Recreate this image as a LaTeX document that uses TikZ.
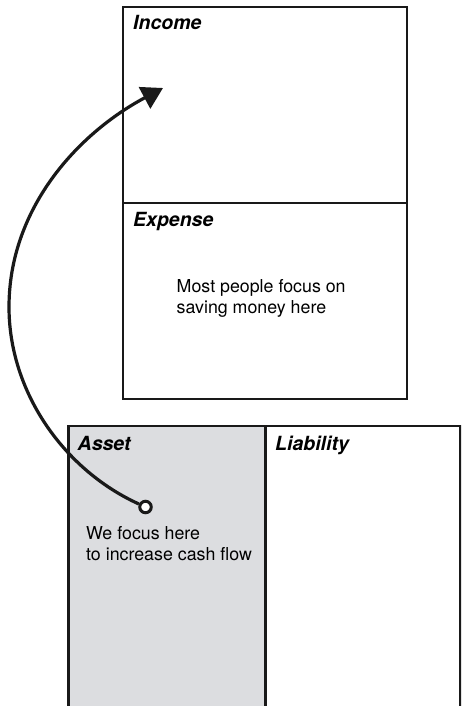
\documentclass[tikz,border=0pt]{standalone}
\usepackage{fontspec}
\setmainfont{TeX Gyre Heros}
\usetikzlibrary{arrows.meta}
\definecolor{assetgray}{HTML}{DCDDE0}
\begin{document}
\begin{tikzpicture}[x=1pt,y=-1pt,
  box/.style={draw=black!90,line width=2.7pt,anchor=north west,inner sep=0pt,outer sep=0pt},
  lbl/.style={anchor=base west,inner sep=0pt,font=\fontsize{19.5}{23}\selectfont\bfseries\itshape},
  body/.style={anchor=base west,inner sep=0pt,align=left,font=\fontsize{17.8}{20.5}\selectfont},
  flow/.style={line width=3.2pt,black!90},
  dotstyle/.style={circle,draw=black!90,fill=white,line width=3pt,minimum size=11.5pt,inner sep=0pt}]
\useasboundingbox (0,0) rectangle (461,706);
\clip (0,0) rectangle (461,706);
% top boxes
\node[box,minimum width=284pt,minimum height=196pt] (income) at (123,7) {};
\node[box,minimum width=284pt,minimum height=196pt] (expense) at (123,203) {};
% bottom boxes
\node[box,fill=assetgray,minimum width=197.2pt,minimum height=320pt] (asset) at (68.5,426) {};
\node[box,minimum width=194.5pt,minimum height=320pt] (liability) at (265.7,426) {};
% labels
\node[lbl] (tincome) at (133,30) {Income};
\node[lbl] (texpense) at (133,226.5) {Expense};
\node[lbl] (tasset) at (77.5,450) {Asset};
\node[lbl] (tliab) at (275,450) {Liability};
\node[body] (tsave) at (176.5,313) {Most people focus on\\saving money here};
\node[body] (tfocus) at (86,560) {We focus here\\to increase cash flow};
% connector
\node[dotstyle] (dot) at (145.5,507) {};
\coordinate (left) at (9,307);
\coordinate (tip) at (163,88);
\draw[flow,-{Triangle[length=21pt,width=24pt]}] (dot) .. controls (64,470) and (9,392) .. (left)
  .. controls (9,209) and (77,134) .. (tip);
\end{tikzpicture}
\end{document}
